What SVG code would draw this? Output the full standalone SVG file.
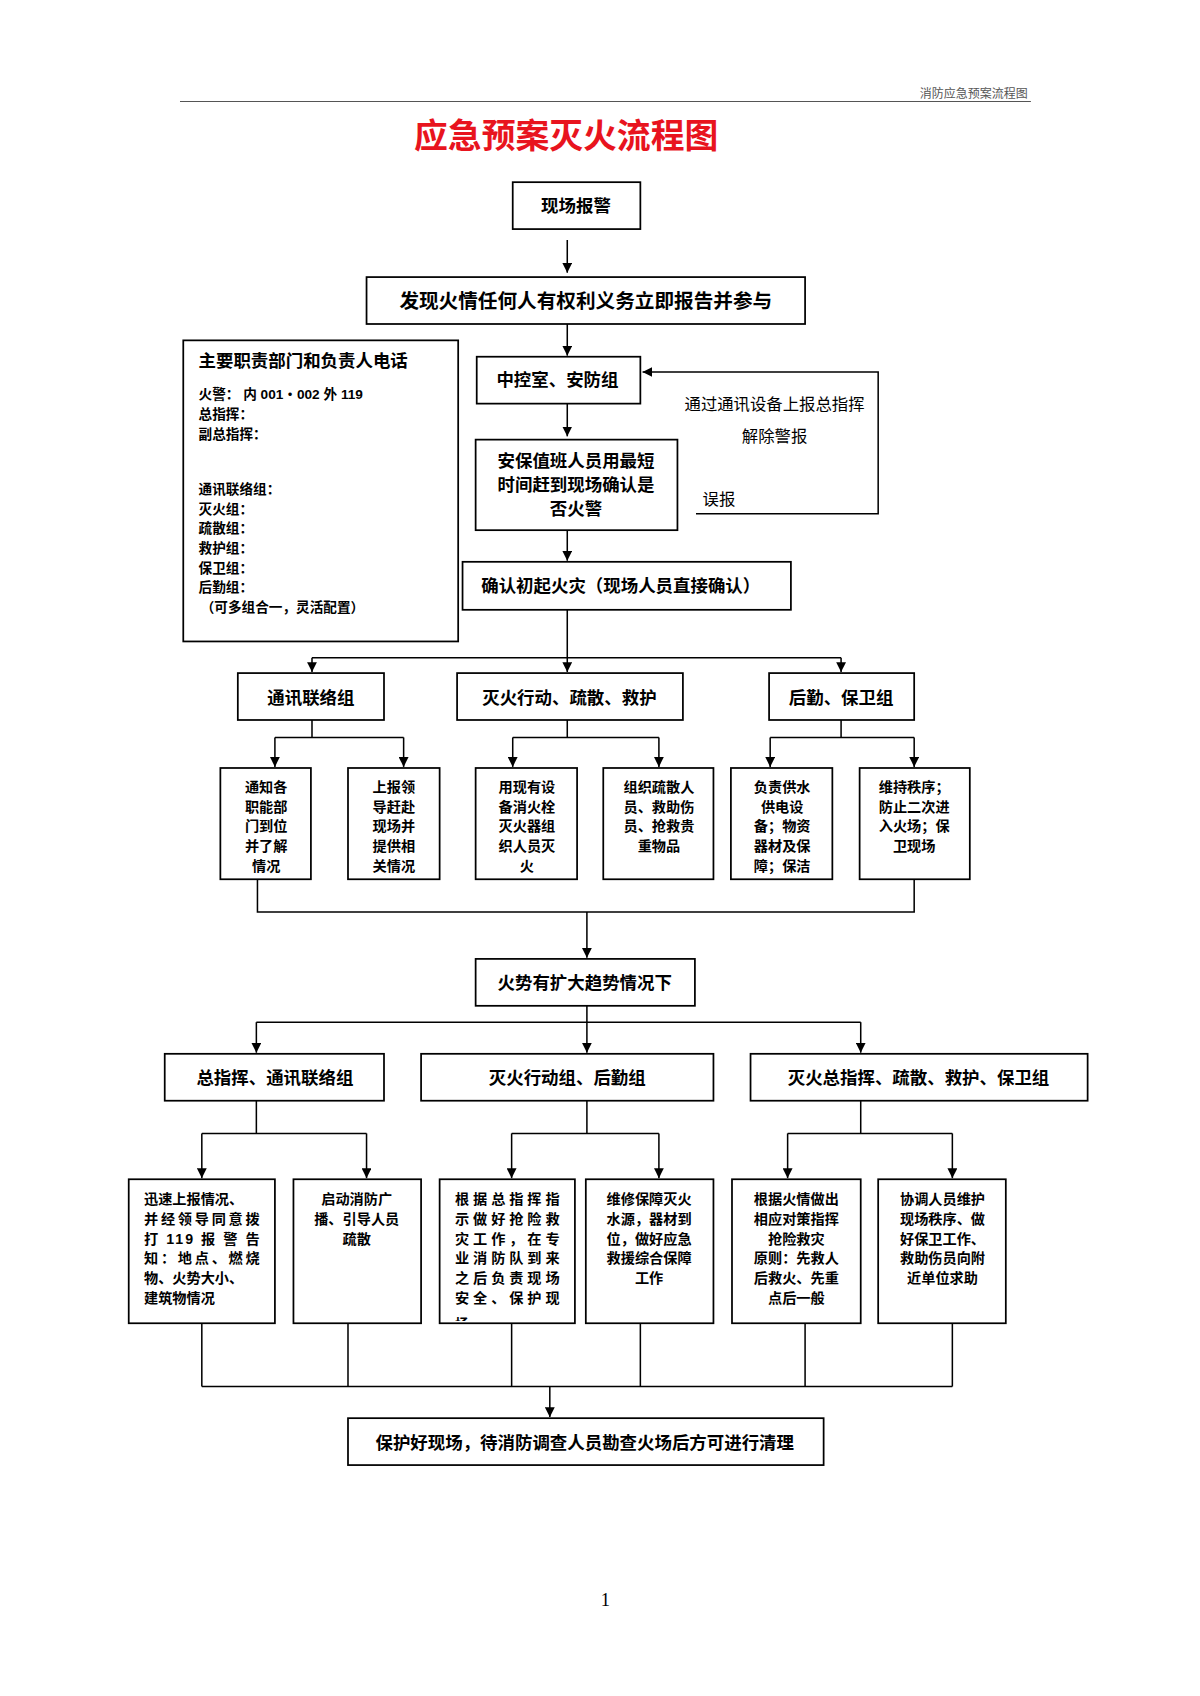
<svg xmlns="http://www.w3.org/2000/svg" width="1200" height="1696" viewBox="0 0 1200 1696">
<style>
.b{fill:#fff;stroke:#000;stroke-width:1.6}
.l{fill:none;stroke:#000;stroke-width:1.4}
text{font-family:"Liberation Sans","Noto Sans CJK SC",sans-serif;font-weight:bold;fill:#000}
.h{font-size:16px;text-anchor:middle}
.s{font-size:13px;text-anchor:middle}
.t{font-size:13px}
.n{font-weight:normal;font-size:15px}
</style>
<defs>
<marker id="a" viewBox="0 0 10 10" refX="10" refY="5" markerWidth="9" markerHeight="9" markerUnits="userSpaceOnUse" orient="auto"><path d="M0,0L10,5L0,10z" fill="#000"/></marker>
<clipPath id="c3"><rect x="403" y="1081" width="124" height="130"/></clipPath>
</defs>
<rect width="1200" height="1696" fill="#fff"/>
<g transform="scale(1.0909)">
<g id="header">
<line x1="165" y1="93" x2="945" y2="93" stroke="#555" stroke-width="1"/>
<text x="942" y="90" style="font-family:'Liberation Serif','Noto Sans CJK SC',serif;font-weight:normal;font-size:11px;fill:#555" text-anchor="end">消防应急预案流程图</text>
<text x="519" y="136" style="font-size:31px;fill:#e8141e" text-anchor="middle">应急预案灭火流程图</text>
<text x="555" y="1472" style="font-family:'Liberation Serif',serif;font-weight:normal;font-size:17px" text-anchor="middle">1</text>
</g>
<g id="connectors">
<path class="l" marker-end="url(#a)" d="M520,220V250"/>
<path class="l" marker-end="url(#a)" d="M520,297V326"/>
<path class="l" marker-end="url(#a)" d="M520,370V400"/>
<path class="l" marker-end="url(#a)" d="M638,471H805V341H589"/>
<path class="l" marker-end="url(#a)" d="M520,486V514"/>
<path class="l" d="M520,559V603M286,603H771"/>
<path class="l" marker-end="url(#a)" d="M286,603V616"/>
<path class="l" marker-end="url(#a)" d="M520,603V616"/>
<path class="l" marker-end="url(#a)" d="M771,603V616"/>
<path class="l" d="M286,660V676M252,676H370M520,660V676M470,676H604M771,660V676M706,676H838"/>
<path class="l" marker-end="url(#a)" d="M252,676V703"/>
<path class="l" marker-end="url(#a)" d="M370,676V703"/>
<path class="l" marker-end="url(#a)" d="M470,676V703"/>
<path class="l" marker-end="url(#a)" d="M604,676V703"/>
<path class="l" marker-end="url(#a)" d="M706,676V703"/>
<path class="l" marker-end="url(#a)" d="M838,676V703"/>
<path class="l" d="M236,806V836H838V806"/>
<path class="l" marker-end="url(#a)" d="M538,836V878"/>
<path class="l" d="M538,922V937M235,937H789"/>
<path class="l" marker-end="url(#a)" d="M235,937V965"/>
<path class="l" marker-end="url(#a)" d="M538,937V965"/>
<path class="l" marker-end="url(#a)" d="M789,937V965"/>
<path class="l" d="M235,1009V1039M185,1039H336M538,1009V1039M469,1039H604M789,1009V1039M722,1039H873"/>
<path class="l" marker-end="url(#a)" d="M185,1039V1080"/>
<path class="l" marker-end="url(#a)" d="M336,1039V1080"/>
<path class="l" marker-end="url(#a)" d="M469,1039V1080"/>
<path class="l" marker-end="url(#a)" d="M604,1039V1080"/>
<path class="l" marker-end="url(#a)" d="M722,1039V1080"/>
<path class="l" marker-end="url(#a)" d="M873,1039V1080"/>
<path class="l" d="M185,1213V1271M319,1213V1271M469,1213V1271M587,1213V1271M738,1213V1271M873,1213V1271M185,1271H873"/>
<path class="l" marker-end="url(#a)" d="M504,1271V1299"/>
</g>
<g id="n1"><rect class="b" x="470" y="167" width="117" height="43"/><text class="h" x="528" y="194">现场报警</text></g>
<g id="n2"><rect class="b" x="336" y="254" width="402" height="43"/><text class="h" x="537" y="282" style="font-size:18px">发现火情任何人有权利义务立即报告并参与</text></g>
<g id="info"><rect class="b" x="168" y="312" width="252" height="276"/>
<text x="182" y="336" style="font-size:16px">主要职责部门和负责人电话</text>
<g style="font-size:12.5px"><text x="182" y="366" style="font-size:12.5px">火警：    内 001・002    外 119</text>
<text x="182" y="384" style="font-size:12.5px">总指挥：</text><text x="182" y="402" style="font-size:12.5px">副总指挥：</text>
<text x="182" y="453" style="font-size:12.5px">通讯联络组：</text><text x="182" y="471" style="font-size:12.5px">灭火组：</text>
<text x="182" y="489" style="font-size:12.5px">疏散组：</text><text x="182" y="507" style="font-size:12.5px">救护组：</text>
<text x="182" y="525" style="font-size:12.5px">保卫组：</text><text x="182" y="543" style="font-size:12.5px">后勤组：</text>
<text x="184" y="561" style="font-size:12.5px">（可多组合一，灵活配置）</text></g></g>
<g id="n3"><rect class="b" x="437" y="327" width="150" height="43"/><text class="h" x="511" y="354">中控室、安防组</text></g>
<g id="n4"><rect class="b" x="436" y="403" width="185" height="83"/><text class="h" x="528" y="428">安保值班人员用最短</text><text class="h" x="528" y="450">时间赶到现场确认是</text><text class="h" x="528" y="472">否火警</text></g>
<g id="fb"><text class="n" x="710" y="376" text-anchor="middle">通过通讯设备上报总指挥</text><text class="n" x="710" y="405" text-anchor="middle">解除警报</text><text class="n" x="644" y="463">误报</text></g>
<g id="n5"><rect class="b" x="424" y="515" width="301" height="44"/><text class="h" x="569" y="543">确认初起火灾（现场人员直接确认）</text></g>
<g id="g1"><rect class="b" x="218" y="617" width="134" height="43"/><text class="h" x="285" y="645">通讯联络组</text></g>
<g id="g2"><rect class="b" x="419" y="617" width="207" height="43"/><text class="h" x="522" y="645">灭火行动、疏散、救护</text></g>
<g id="g3"><rect class="b" x="705" y="617" width="133" height="43"/><text class="h" x="771" y="645">后勤、保卫组</text></g>
<g id="s1"><rect class="b" x="202" y="704" width="83" height="102"/><text class="s" x="244" y="726">通知各</text><text class="s" x="244" y="744">职能部</text><text class="s" x="244" y="762">门到位</text><text class="s" x="244" y="780">并了解</text><text class="s" x="244" y="798">情况</text></g>
<g id="s2"><rect class="b" x="319" y="704" width="84" height="102"/><text class="s" x="361" y="726">上报领</text><text class="s" x="361" y="744">导赶赴</text><text class="s" x="361" y="762">现场并</text><text class="s" x="361" y="780">提供相</text><text class="s" x="361" y="798">关情况</text></g>
<g id="s3"><rect class="b" x="436" y="704" width="93" height="102"/><text class="s" x="483" y="726">用现有设</text><text class="s" x="483" y="744">备消火栓</text><text class="s" x="483" y="762">灭火器组</text><text class="s" x="483" y="780">织人员灭</text><text class="s" x="483" y="798">火</text></g>
<g id="s4"><rect class="b" x="553" y="704" width="101" height="102"/><text class="s" x="604" y="726">组织疏散人</text><text class="s" x="604" y="744">员、救助伤</text><text class="s" x="604" y="762">员、抢救贵</text><text class="s" x="604" y="780">重物品</text></g>
<g id="s5"><rect class="b" x="670" y="704" width="93" height="102"/><text class="s" x="717" y="726">负责供水</text><text class="s" x="717" y="744">供电设</text><text class="s" x="717" y="762">备；物资</text><text class="s" x="717" y="780">器材及保</text><text class="s" x="717" y="798">障；保洁</text></g>
<g id="s6"><rect class="b" x="788" y="704" width="101" height="102"/><text class="s" x="838" y="726">维持秩序；</text><text class="s" x="838" y="744">防止二次进</text><text class="s" x="838" y="762">入火场；保</text><text class="s" x="838" y="780">卫现场</text></g>
<g id="n6"><rect class="b" x="436" y="879" width="201" height="43"/><text class="h" x="536" y="907">火势有扩大趋势情况下</text></g>
<g id="h1"><rect class="b" x="151" y="966" width="201" height="43"/><text class="h" x="252" y="994">总指挥、通讯联络组</text></g>
<g id="h2"><rect class="b" x="386" y="966" width="268" height="43"/><text class="h" x="520" y="994">灭火行动组、后勤组</text></g>
<g id="h3"><rect class="b" x="688" y="966" width="309" height="43"/><text class="h" x="842" y="994">灭火总指挥、疏散、救护、保卫组</text></g>
<g id="b1"><rect class="b" x="118" y="1081" width="134" height="132"/>
<text class="t" x="132" y="1104">迅速上报情况、</text><text class="t" x="132" y="1122" textLength="106">并经领导同意拨</text><text class="t" x="132" y="1140" textLength="106">打 119 报 警 告</text><text class="t" x="132" y="1158" textLength="106">知：地点、燃烧</text><text class="t" x="132" y="1176">物、火势大小、</text><text class="t" x="132" y="1194">建筑物情况</text></g>
<g id="b2"><rect class="b" x="269" y="1081" width="117" height="132"/><text class="s" x="327" y="1104">启动消防广</text><text class="s" x="327" y="1122">播、引导人员</text><text class="s" x="327" y="1140">疏散</text></g>
<g id="b3"><rect class="b" x="403" y="1081" width="124" height="132"/><g clip-path="url(#c3)">
<text class="t" x="417" y="1104" textLength="96">根据总指挥指</text><text class="t" x="417" y="1122" textLength="96">示做好抢险救</text><text class="t" x="417" y="1140" textLength="96">灾工作，在专</text><text class="t" x="417" y="1158" textLength="96">业消防队到来</text><text class="t" x="417" y="1176" textLength="96">之后负责现场</text><text class="t" x="417" y="1194" textLength="96">安全、保护现</text><text class="t" x="417" y="1218">场</text></g></g>
<g id="b4"><rect class="b" x="537" y="1081" width="117" height="132"/><text class="s" x="595" y="1104">维修保障灭火</text><text class="s" x="595" y="1122">水源，器材到</text><text class="s" x="595" y="1140">位，做好应急</text><text class="s" x="595" y="1158">救援综合保障</text><text class="s" x="595" y="1176">工作</text></g>
<g id="b5"><rect class="b" x="671" y="1081" width="118" height="132"/><text class="s" x="730" y="1104">根据火情做出</text><text class="s" x="730" y="1122">相应对策指挥</text><text class="s" x="730" y="1140">抢险救灾</text><text class="s" x="730" y="1158">原则：先救人</text><text class="s" x="730" y="1176">后救火、先重</text><text class="s" x="730" y="1194">点后一般</text></g>
<g id="b6"><rect class="b" x="805" y="1081" width="117" height="132"/><text class="s" x="864" y="1104">协调人员维护</text><text class="s" x="864" y="1122">现场秩序、做</text><text class="s" x="864" y="1140">好保卫工作、</text><text class="s" x="864" y="1158">救助伤员向附</text><text class="s" x="864" y="1176">近单位求助</text></g>
<g id="n7"><rect class="b" x="319" y="1300" width="436" height="43"/><text class="h" x="536" y="1328">保护好现场，待消防调查人员勘查火场后方可进行清理</text></g>
</g>
</svg>
